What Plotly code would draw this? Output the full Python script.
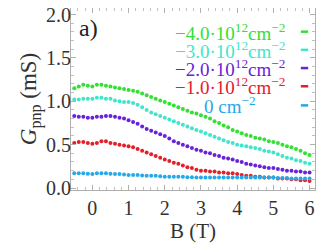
import numpy as np
import plotly.graph_objects as go

# magnetic field grid (T)
B = [round(-0.5 + 0.125 * i, 3) for i in range(53)]

G_m4 = [1.15, 1.17, 1.19, 1.18, 1.17, 1.19, 1.19, 1.18, 1.17, 1.16, 1.15, 1.14, 1.13,
        1.12, 1.11, 1.09, 1.07, 1.05, 1.03, 1.01, 0.99, 0.97, 0.95, 0.93, 0.91, 0.89,
        0.87, 0.86, 0.84, 0.82, 0.80, 0.77, 0.75, 0.72, 0.70, 0.67, 0.65, 0.63, 0.61,
        0.60, 0.58, 0.57, 0.56, 0.54, 0.53, 0.52, 0.50, 0.48, 0.47, 0.45, 0.43, 0.40, 0.38]
G_m3 = [1.02, 1.02, 1.03, 1.03, 1.03, 1.04, 1.04, 1.03, 1.03, 1.01, 1.00, 0.99, 0.99,
        0.98, 0.96, 0.93, 0.90, 0.87, 0.85, 0.83, 0.81, 0.79, 0.77, 0.75, 0.73, 0.71,
        0.69, 0.67, 0.65, 0.63, 0.61, 0.59, 0.57, 0.55, 0.53, 0.52, 0.50, 0.49, 0.48,
        0.47, 0.46, 0.45, 0.43, 0.42, 0.41, 0.39, 0.37, 0.35, 0.34, 0.32, 0.31, 0.29, 0.28]
G_m2 = [0.83, 0.82, 0.82, 0.81, 0.81, 0.82, 0.82, 0.83, 0.83, 0.82, 0.81, 0.80, 0.78,
        0.76, 0.74, 0.71, 0.68, 0.66, 0.64, 0.62, 0.60, 0.57, 0.54, 0.52, 0.50, 0.48,
        0.46, 0.44, 0.43, 0.41, 0.40, 0.38, 0.37, 0.35, 0.34, 0.33, 0.31, 0.30, 0.28,
        0.27, 0.26, 0.25, 0.24, 0.23, 0.23, 0.22, 0.21, 0.20, 0.20, 0.19, 0.19, 0.18, 0.18]
G_m1 = [0.52, 0.53, 0.53, 0.52, 0.51, 0.52, 0.54, 0.54, 0.52, 0.51, 0.50, 0.49, 0.48,
        0.47, 0.45, 0.43, 0.41, 0.39, 0.37, 0.35, 0.33, 0.31, 0.29, 0.28, 0.26, 0.24,
        0.23, 0.21, 0.20, 0.20, 0.19, 0.19, 0.18, 0.18, 0.17, 0.17, 0.16, 0.15, 0.14,
        0.14, 0.13, 0.13, 0.12, 0.12, 0.12, 0.11, 0.11, 0.11, 0.10, 0.10, 0.09, 0.09, 0.08]
G_0 = [0.17, 0.17, 0.17, 0.165, 0.16, 0.17, 0.17, 0.17, 0.165, 0.16, 0.16, 0.155, 0.15,
       0.15, 0.15, 0.145, 0.14, 0.14, 0.14, 0.135, 0.13, 0.13, 0.13, 0.13, 0.13, 0.125,
       0.125, 0.12, 0.12, 0.12, 0.12, 0.12, 0.12, 0.12, 0.12, 0.12, 0.12, 0.12, 0.12,
       0.12, 0.12, 0.12, 0.12, 0.12, 0.12, 0.115, 0.115, 0.115, 0.11, 0.11, 0.11, 0.11, 0.11]

series = [G_m4, G_m3, G_m2, G_m1, G_0]
labels = ["−4.0·10<sup>12</sup>cm<sup>−2</sup>",
          "−3.0·10<sup>12</sup>cm<sup>−2</sup>",
          "−2.0·10<sup>12</sup>cm<sup>−2</sup>",
          "−1.0·10<sup>12</sup>cm<sup>−2</sup>",
          "0 cm<sup>−2</sup>"]
colors = ["#33e033", "#40e6cc", "#6a22d8", "#e3202a", "#26a9e8"]

x_ticks = [0, 1, 2, 3, 4, 5, 6]
y_ticks = [0.0, 0.5, 1.0, 1.5, 2.0]
y_ticklabels = ["0.0", "0.5", "1.0", "1.5", "2.0"]

FONT = "Liberation Serif, Times New Roman, serif"

fig = go.Figure()
for vals, lab, col in zip(series, labels, colors):
    fig.add_trace(go.Scatter(x=B, y=vals, mode="markers", name=lab,
                             marker=dict(size=4, color=col), showlegend=False))

# legend built from annotations (text centred, short dash on the right)
leg_y = [0.87, 0.77, 0.67, 0.57, 0.465]
for lab, col, yy in zip(labels, colors, leg_y):
    fig.add_annotation(xref="paper", yref="paper", x=0.65, y=yy, text=lab,
                       showarrow=False, xanchor="center", yanchor="middle",
                       font=dict(family=FONT, size=19, color=col))
    fig.add_shape(type="line", xref="paper", yref="paper", x0=0.942, x1=0.972,
                  y0=yy, y1=yy, line=dict(color=col, width=2.5))

fig.add_annotation(xref="paper", yref="paper", x=0.025, y=0.97, text="a)",
                   showarrow=False, xanchor="left", yanchor="top",
                   font=dict(family=FONT, size=24, color="#222"))

axis_common = dict(showline=True, linecolor="#b0b0b0", linewidth=1, mirror="allticks",
                   ticks="inside", tickcolor="#b0b0b0", ticklen=5, showgrid=False,
                   zeroline=False, automargin=False, ticklabeloverflow="allow",
                   tickfont=dict(family=FONT, size=20, color="#333"))

fig.update_xaxes(range=[-0.59, 6.15], tickvals=x_ticks,
                 minor=dict(ticks="inside", dtick=0.2, ticklen=3, tickcolor="#c0c0c0"),
                 title=dict(text="B (T)", font=dict(family=FONT, size=21, color="#333"), standoff=4),
                 **axis_common)
fig.update_yaxes(range=[-0.023, 2.075], tickvals=y_ticks, ticktext=y_ticklabels,
                 ticklabelstandoff=-5,
                 minor=dict(ticks="inside", dtick=0.1, ticklen=3, tickcolor="#c0c0c0"),
                 title=dict(text="<i>G</i><sub>pnp</sub> (mS)", font=dict(family=FONT, size=23, color="#333"), standoff=2),
                 **axis_common)

# the page body adds an 8px offset; the figure is sized so the plot area lands where the reference has it
fig.update_layout(width=319, height=237, margin=dict(l=63, r=12, t=0, b=55),
                  paper_bgcolor="white", plot_bgcolor="white")

fig.write_html("out.html")
